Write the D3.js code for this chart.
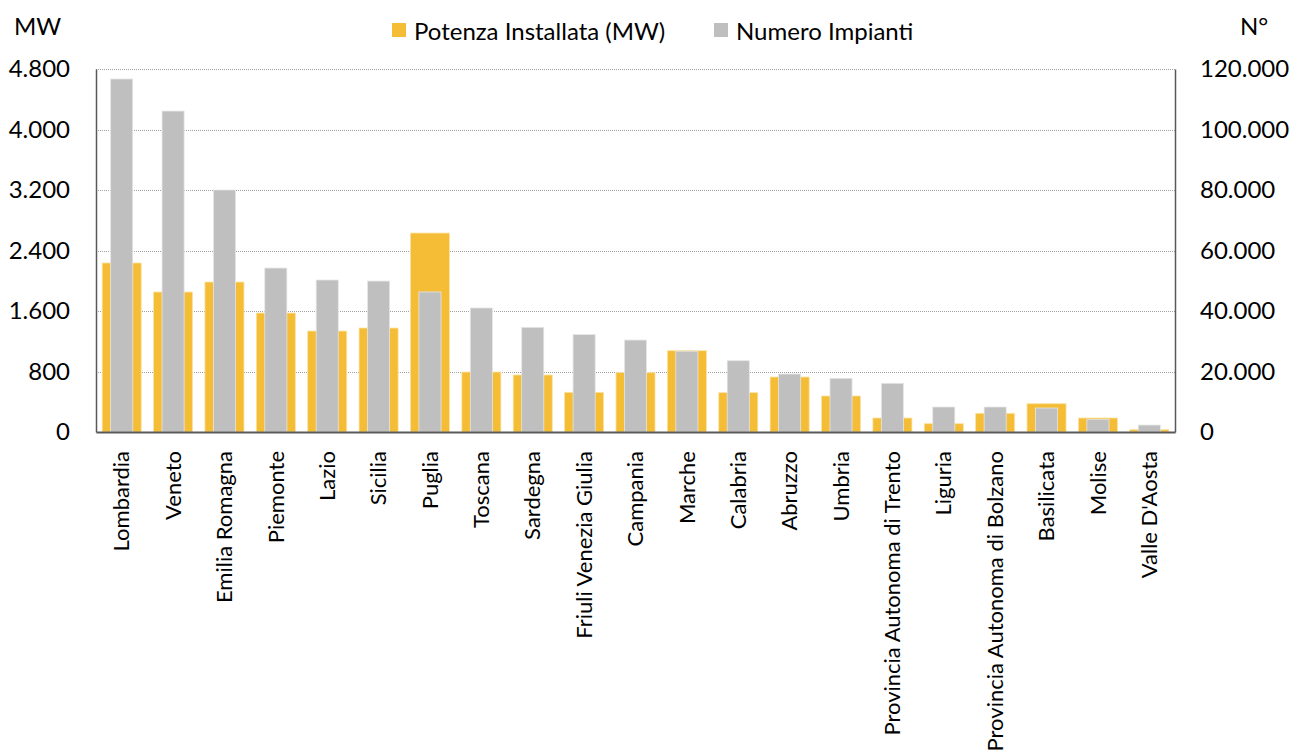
<!DOCTYPE html>
<html><head><meta charset="utf-8">
<script src="https://cdn.jsdelivr.net/npm/d3@7/dist/d3.min.js"></script>
<style>
html,body{margin:0;padding:0;background:#fff;}
svg text{font-family:Lato,"Open Sans",sans-serif;fill:#000;}
</style></head>
<body>
<svg id="chart" width="1290" height="755"></svg>
<script>
const categories = ["Lombardia","Veneto","Emilia Romagna","Piemonte","Lazio","Sicilia","Puglia","Toscana","Sardegna","Friuli Venezia Giulia","Campania","Marche","Calabria","Abruzzo","Umbria","Provincia Autonoma di Trento","Liguria","Provincia Autonoma di Bolzano","Basilicata","Molise","Valle D'Aosta"];
const potenzaMW = [2235,1851,1983,1573,1335,1375,2631,793,754,525,784,1075,520,727,476,185,110,247,374,185,30];
const numeroImpianti = [116700,106100,80000,54200,50250,49900,46300,41000,34600,32200,30400,26700,23570,19170,17750,16100,8260,8260,7930,4200,2300];
const leftTicks = [0,800,1600,2400,3200,4000,4800];
const rightTicks = [0,20000,40000,60000,80000,100000,120000];
const seriesNames = ["Potenza Installata (MW)","Numero Impianti"];
const colors = ["#F4BD35","#BFBFBF"];

const svg = d3.select("#chart");
const m = {left:96, right:1175, top:69, bottom:432};
const x = d3.scaleBand().domain(categories).range([m.left,m.right]);
const yL = d3.scaleLinear().domain([0,4800]).range([m.bottom,m.top]);
const yR = d3.scaleLinear().domain([0,120000]).range([m.bottom,m.top]);
const fmt = v => d3.format(",")(v).replace(/,/g,".");

// gridlines
svg.append("g").selectAll("line").data(leftTicks.filter(d=>d>0)).join("line")
  .attr("x1",m.left).attr("x2",m.right)
  .attr("y1",d=>Math.round(yL(d))+0.5).attr("y2",d=>Math.round(yL(d))+0.5)
  .attr("stroke","#a0a0a0").attr("stroke-width",1).attr("stroke-dasharray","1,1");

const bw = x.bandwidth();
const oW = bw*0.76, gW = bw*0.43;
// orange bars
svg.append("g").selectAll("rect").data(categories).join("rect")
  .attr("x",(d)=>x(d)+bw/2-oW/2).attr("width",oW)
  .attr("y",(d,i)=>yL(potenzaMW[i])).attr("height",(d,i)=>m.bottom-yL(potenzaMW[i]))
  .attr("fill",colors[0]).attr("stroke","#FBE3A6").attr("stroke-width",0.8);
// gray bars
svg.append("g").selectAll("rect").data(categories).join("rect")
  .attr("x",(d)=>x(d)+bw/2-gW/2).attr("width",gW)
  .attr("y",(d,i)=>yR(numeroImpianti[i])).attr("height",(d,i)=>m.bottom-yR(numeroImpianti[i]))
  .attr("fill",colors[1]).attr("stroke","#E6E6E6").attr("stroke-width",0.8);

// axes
const axL = d3.axisLeft(yL).tickValues(leftTicks).tickFormat(fmt).tickSize(0).tickPadding(26);
const gL = svg.append("g").attr("transform",`translate(${m.left},0)`).call(axL);
const axR = d3.axisRight(yR).tickValues(rightTicks).tickFormat(fmt).tickSize(0).tickPadding(25);
const gR = svg.append("g").attr("transform",`translate(${m.right},0)`).call(axR);
[gL,gR].forEach(g=>{
  g.select(".domain").attr("stroke","#595959").attr("stroke-width",1.5);
  g.selectAll("text").attr("font-size",24).attr("font-family","Lato, sans-serif").attr("fill","#000");
});
// bottom axis
const axB = d3.axisBottom(x).tickSize(0).tickPadding(0);
const gB = svg.append("g").attr("transform",`translate(0,${m.bottom})`).call(axB);
gB.select(".domain").attr("stroke","#595959").attr("stroke-width",2);
gB.selectAll("text")
  .attr("font-size",22).attr("font-family","Lato, sans-serif").attr("fill","#000")
  .attr("transform","rotate(-90)")
  .attr("text-anchor","end").attr("x",-19).attr("y",0).attr("dy","0.35em");

// unit labels
svg.append("text").attr("x",14).attr("y",35).attr("font-size",24).text("MW");
svg.append("text").attr("x",1240).attr("y",35).attr("font-size",24).text("N°");

// legend
const legX = [392,714];
const lg = svg.append("g");
seriesNames.forEach((s,i)=>{
  lg.append("rect").attr("x",legX[i]).attr("y",23).attr("width",14).attr("height",14).attr("fill",colors[i]);
  lg.append("text").attr("x",legX[i]+22).attr("y",40).attr("font-size",24).text(s);
});
</script>
</body></html>
